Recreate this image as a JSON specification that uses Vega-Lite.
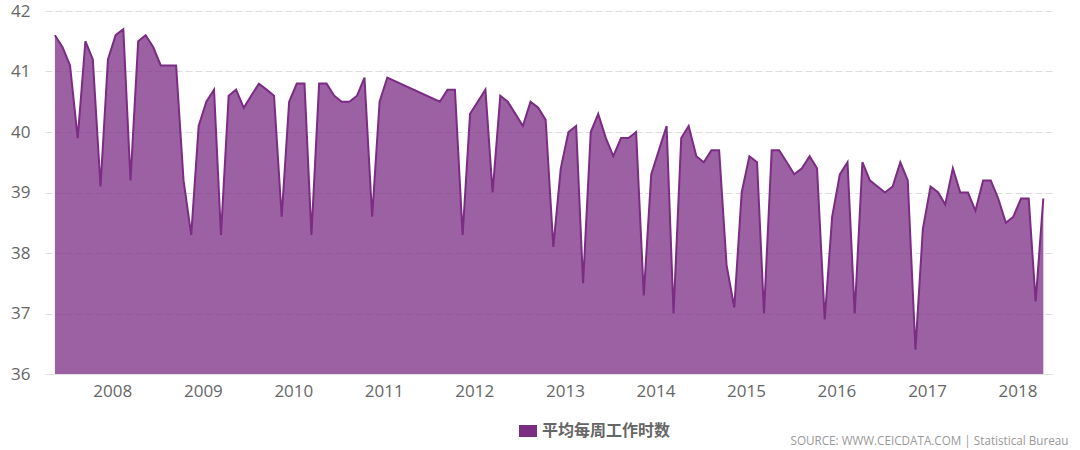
{
  "$schema": "https://vega.github.io/schema/vega-lite/v6.json",
  "width": 1007,
  "height": 363,
  "autosize": {"type": "none"},
  "padding": {"left": 45, "top": 11, "right": 28, "bottom": 76},
  "background": "#ffffff",
  "config": {
    "view": {"stroke": null},
    "font": "Open Sans"
  },
  "data": {
    "values": [
      {"date": "2007-05-15", "hours": 41.6},
      {"date": "2007-06-15", "hours": 41.4},
      {"date": "2007-07-15", "hours": 41.1},
      {"date": "2007-08-15", "hours": 39.9},
      {"date": "2007-09-15", "hours": 41.5},
      {"date": "2007-10-15", "hours": 41.2},
      {"date": "2007-11-15", "hours": 39.1},
      {"date": "2007-12-15", "hours": 41.2},
      {"date": "2008-01-15", "hours": 41.6},
      {"date": "2008-02-15", "hours": 41.7},
      {"date": "2008-03-15", "hours": 39.2},
      {"date": "2008-04-15", "hours": 41.5},
      {"date": "2008-05-15", "hours": 41.6},
      {"date": "2008-06-15", "hours": 41.4},
      {"date": "2008-07-15", "hours": 41.1},
      {"date": "2008-08-15", "hours": 41.1},
      {"date": "2008-09-15", "hours": 41.1},
      {"date": "2008-10-15", "hours": 39.2},
      {"date": "2008-11-15", "hours": 38.3},
      {"date": "2008-12-15", "hours": 40.1},
      {"date": "2009-01-15", "hours": 40.5},
      {"date": "2009-02-15", "hours": 40.7},
      {"date": "2009-03-15", "hours": 38.3},
      {"date": "2009-04-15", "hours": 40.6},
      {"date": "2009-05-15", "hours": 40.7},
      {"date": "2009-06-15", "hours": 40.4},
      {"date": "2009-07-15", "hours": 40.6},
      {"date": "2009-08-15", "hours": 40.8},
      {"date": "2009-09-15", "hours": 40.7},
      {"date": "2009-10-15", "hours": 40.6},
      {"date": "2009-11-15", "hours": 38.6},
      {"date": "2009-12-15", "hours": 40.5},
      {"date": "2010-01-15", "hours": 40.8},
      {"date": "2010-02-15", "hours": 40.8},
      {"date": "2010-03-15", "hours": 38.3},
      {"date": "2010-04-15", "hours": 40.8},
      {"date": "2010-05-15", "hours": 40.8},
      {"date": "2010-06-15", "hours": 40.6},
      {"date": "2010-07-15", "hours": 40.5},
      {"date": "2010-08-15", "hours": 40.5},
      {"date": "2010-09-15", "hours": 40.6},
      {"date": "2010-10-15", "hours": 40.9},
      {"date": "2010-11-15", "hours": 38.6},
      {"date": "2010-12-15", "hours": 40.5},
      {"date": "2011-01-15", "hours": 40.9},
      {"date": "2011-08-15", "hours": 40.5},
      {"date": "2011-09-15", "hours": 40.7},
      {"date": "2011-10-15", "hours": 40.7},
      {"date": "2011-11-15", "hours": 38.3},
      {"date": "2011-12-15", "hours": 40.3},
      {"date": "2012-01-15", "hours": 40.5},
      {"date": "2012-02-15", "hours": 40.7},
      {"date": "2012-03-15", "hours": 39.0},
      {"date": "2012-04-15", "hours": 40.6},
      {"date": "2012-05-15", "hours": 40.5},
      {"date": "2012-06-15", "hours": 40.3},
      {"date": "2012-07-15", "hours": 40.1},
      {"date": "2012-08-15", "hours": 40.5},
      {"date": "2012-09-15", "hours": 40.4},
      {"date": "2012-10-15", "hours": 40.2},
      {"date": "2012-11-15", "hours": 38.1},
      {"date": "2012-12-15", "hours": 39.4},
      {"date": "2013-01-15", "hours": 40.0},
      {"date": "2013-02-15", "hours": 40.1},
      {"date": "2013-03-15", "hours": 37.5},
      {"date": "2013-04-15", "hours": 40.0},
      {"date": "2013-05-15", "hours": 40.3},
      {"date": "2013-06-15", "hours": 39.9},
      {"date": "2013-07-15", "hours": 39.6},
      {"date": "2013-08-15", "hours": 39.9},
      {"date": "2013-09-15", "hours": 39.9},
      {"date": "2013-10-15", "hours": 40.0},
      {"date": "2013-11-15", "hours": 37.3},
      {"date": "2013-12-15", "hours": 39.3},
      {"date": "2014-01-15", "hours": 39.7},
      {"date": "2014-02-15", "hours": 40.1},
      {"date": "2014-03-15", "hours": 37.0},
      {"date": "2014-04-15", "hours": 39.9},
      {"date": "2014-05-15", "hours": 40.1},
      {"date": "2014-06-15", "hours": 39.6},
      {"date": "2014-07-15", "hours": 39.5},
      {"date": "2014-08-15", "hours": 39.7},
      {"date": "2014-09-15", "hours": 39.7},
      {"date": "2014-10-15", "hours": 37.8},
      {"date": "2014-11-15", "hours": 37.1},
      {"date": "2014-12-15", "hours": 39.0},
      {"date": "2015-01-15", "hours": 39.6},
      {"date": "2015-02-15", "hours": 39.5},
      {"date": "2015-03-15", "hours": 37.0},
      {"date": "2015-04-15", "hours": 39.7},
      {"date": "2015-05-15", "hours": 39.7},
      {"date": "2015-06-15", "hours": 39.5},
      {"date": "2015-07-15", "hours": 39.3},
      {"date": "2015-08-15", "hours": 39.4},
      {"date": "2015-09-15", "hours": 39.6},
      {"date": "2015-10-15", "hours": 39.4},
      {"date": "2015-11-15", "hours": 36.9},
      {"date": "2015-12-15", "hours": 38.6},
      {"date": "2016-01-15", "hours": 39.3},
      {"date": "2016-02-15", "hours": 39.5},
      {"date": "2016-03-15", "hours": 37.0},
      {"date": "2016-04-15", "hours": 39.5},
      {"date": "2016-05-15", "hours": 39.2},
      {"date": "2016-06-15", "hours": 39.1},
      {"date": "2016-07-15", "hours": 39.0},
      {"date": "2016-08-15", "hours": 39.1},
      {"date": "2016-09-15", "hours": 39.5},
      {"date": "2016-10-15", "hours": 39.2},
      {"date": "2016-11-15", "hours": 36.4},
      {"date": "2016-12-15", "hours": 38.4},
      {"date": "2017-01-15", "hours": 39.1},
      {"date": "2017-02-15", "hours": 39.0},
      {"date": "2017-03-15", "hours": 38.8},
      {"date": "2017-04-15", "hours": 39.4},
      {"date": "2017-05-15", "hours": 39.0},
      {"date": "2017-06-15", "hours": 39.0},
      {"date": "2017-07-15", "hours": 38.7},
      {"date": "2017-08-15", "hours": 39.2},
      {"date": "2017-09-15", "hours": 39.2},
      {"date": "2017-10-15", "hours": 38.9},
      {"date": "2017-11-15", "hours": 38.5},
      {"date": "2017-12-15", "hours": 38.6},
      {"date": "2018-01-15", "hours": 38.9},
      {"date": "2018-02-15", "hours": 38.9},
      {"date": "2018-03-15", "hours": 37.2},
      {"date": "2018-04-15", "hours": 38.9}
    ]
  },
  "mark": {
    "type": "area",
    "fillOpacity": 0.75,
    "line": {"strokeWidth": 2, "strokeJoin": "miter"},
    "interpolate": "linear"
  },
  "encoding": {
    "x": {
      "field": "date",
      "type": "temporal",
      "scale": {
        "type": "utc",
        "domain": [
          {"year": 2007, "month": 4, "date": 5, "utc": true},
          {"year": 2018, "month": 5, "date": 20, "utc": true}
        ]
      },
      "axis": {
        "title": "SOURCE: WWW.CEICDATA.COM | Statistical Bureau",
        "titleFont": "Open Sans",
        "titleFontSize": 11.7,
        "titleFontWeight": "normal",
        "titleColor": "#999999",
        "titleAnchor": "end",
        "titleAlign": "right",
        "titleBaseline": "alphabetic",
        "titleX": 1023,
        "titleY": 70,
        "format": "%Y",
        "tickCount": {"interval": "year", "step": 1},
        "grid": false,
        "ticks": false,
        "tickSize": 0,
        "domain": true,
        "domainColor": "#e0e0e0",
        "domainWidth": 1,
        "labelFontSize": 17,
        "labelColor": "#666666",
        "labelPadding": 9,
        "labelFont": "Open Sans"
      }
    },
    "y": {
      "field": "hours",
      "type": "quantitative",
      "scale": {"domain": [36, 42], "zero": false, "nice": false},
      "axis": {
        "title": null,
        "values": [36, 37, 38, 39, 40, 41, 42],
        "grid": true,
        "gridColor": "#dddddd",
        "gridDash": [7, 3],
        "gridWidth": 1,
        "ticks": false,
        "tickSize": 0,
        "domain": false,
        "labelFontSize": 17,
        "labelColor": "#666666",
        "labelPadding": 15,
        "labelFont": "Open Sans"
      }
    },
    "y2": {"datum": 36},
    "color": {
      "datum": "平均每周工作时数",
      "type": "nominal",
      "scale": {"range": ["#7B2C83"]},
      "legend": {
        "title": null,
        "orient": "none",
        "legendX": 475,
        "legendY": 412,
        "padding": 0,
        "symbolType": "M-1.5,-1H1.5V1H-1.5Z",
        "symbolSize": 144,
        "symbolOpacity": 1,
        "symbolStrokeWidth": 0,
        "symbolFillColor": "#7B2C83",
        "labelFont": "Noto Sans CJK SC",
        "labelFontSize": 16,
        "labelFontWeight": "bold",
        "labelColor": "#666666",
        "labelOffset": 6
      }
    }
  }
}
